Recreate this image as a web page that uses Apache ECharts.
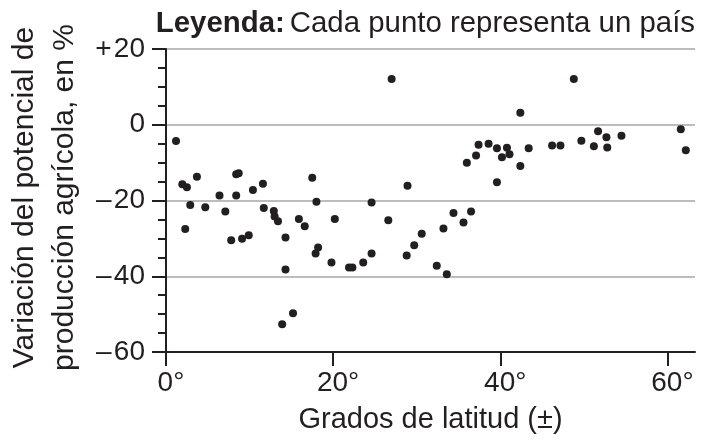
<!DOCTYPE html>
<html><head><meta charset="utf-8">
<script src="https://cdn.jsdelivr.net/npm/echarts@6/dist/echarts.min.js"></script>
<style>html,body{margin:0;padding:0;background:#fff}#c{width:705px;height:442px}</style>
</head><body><div id="c"></div>
<script>
const latitud = [1.2,1.95,2.5,3.7,6.4,8.4,8.4,8.7,10.4,11.6,17.5,18.0,2.9,2.3,4.7,7.1,7.8,9.1,9.9,11.7,12.9,13.0,13.4,14.3,14.3,13.9,15.2,15.9,16.6,18.2,17.9,19.8,20.2,21.9,22.3,23.6,24.6,24.6,26.6,27.0,28.8,28.9,29.7,30.6,32.4,33.6,33.2,34.4,35.6,36.5,36.0,37.1,37.4,38.6,39.6,40.8,40.2,41.1,42.4,42.4,43.4,39.6,46.2,47.2,48.8,49.7,51.2,51.7,52.7,52.8,54.5,61.6,62.2];
const variacion = [-4.3,-15.7,-16.5,-13.7,-18.7,-18.7,-13.1,-12.8,-17.2,-15.6,-14.0,-20.3,-21.2,-27.5,-21.8,-22.9,-30.5,-30.1,-29.2,-22.0,-22.8,-24.2,-25.5,-29.8,-38.2,-52.7,-49.8,-24.9,-26.8,-32.4,-34.0,-36.4,-24.9,-37.7,-37.7,-36.4,-34.0,-20.5,-25.2,12.1,-34.5,-16.1,-31.8,-28.8,-37.2,-39.5,-27.4,-23.3,-25.8,-22.9,-10.0,-8.1,-5.3,-5.0,-6.2,-6.1,-8.6,-7.8,-10.9,3.2,-6.2,-15.2,-5.5,-5.5,12.1,-4.2,-5.7,-1.7,-3.3,-6.0,-2.9,-1.2,-6.7];
const xTicks = [0,20,40,60];
const xTickLabels = ['0°','20°','40°','60°'];
const yTicks = [-60,-40,-20,0,20];
const yTickLabels = ['\u2013\u200A60','\u2013\u200A40','\u2013\u200A20','0','+\u200A20'];

const font = '"Liberation Sans", Arial, sans-serif';
const ink = '#231f20';
const chart = echarts.init(document.getElementById('c'), null, {renderer:'canvas'});
chart.setOption({
  animation:false,
  backgroundColor:'#fff',
  title:{
    text:'{b|Leyenda:} {n|Cada punto representa un país}',
    right:5, top:4,
    textStyle:{fontWeight:'normal',rich:{
      b:{fontFamily:font,fontSize:29.4,fontWeight:'bold',color:ink},
      n:{fontFamily:font,fontSize:29.4,fontWeight:'normal',color:ink}
    }}
  },
  grid:{left:166,right:10,top:49,bottom:90,containLabel:false,outerBoundsMode:'none'},
  xAxis:{
    type:'value', min:0, max:63.3,
    name:'Grados de latitud (±)', nameLocation:'middle', nameGap:53,
    nameTextStyle:{fontFamily:font,fontSize:29,color:ink},
    axisLine:{show:true,onZero:false,lineStyle:{color:ink,width:2}},
    axisTick:{show:true,length:14,lineStyle:{color:ink,width:2},customValues:xTicks},
    axisLabel:{fontFamily:font,fontSize:28,color:ink,margin:17,customValues:xTicks,padding:[0,0,0,10],
      formatter:v=>xTickLabels[xTicks.indexOf(v)]},
    splitLine:{show:false}
  },
  yAxis:{
    type:'value', min:-60, max:20, interval:20,
    name:'Variación del potencial de\nproducción agrícola, en %', nameLocation:'middle', nameGap:79,
    nameTextStyle:{fontFamily:font,fontSize:30,color:ink,lineHeight:40,padding:[0,0,0,6]},
    axisLine:{show:true,onZero:false,lineStyle:{color:ink,width:2}},
    axisTick:{show:true,length:14,lineStyle:{color:ink,width:2}},
    minorTick:{show:true,splitNumber:4,length:8,lineStyle:{color:ink,width:2}},
    axisLabel:{fontFamily:font,fontSize:28,color:ink,margin:21,
      formatter:v=>yTickLabels[yTicks.indexOf(v)]},
    splitLine:{show:true,lineStyle:{color:'#bdbdbd',width:2}}
  },
  series:[{
    type:'scatter', symbol:'circle', symbolSize:8,
    itemStyle:{color:ink,opacity:1},
    data: latitud.map((x,i)=>[x,variacion[i]])
  }]
});
</script></body></html>
